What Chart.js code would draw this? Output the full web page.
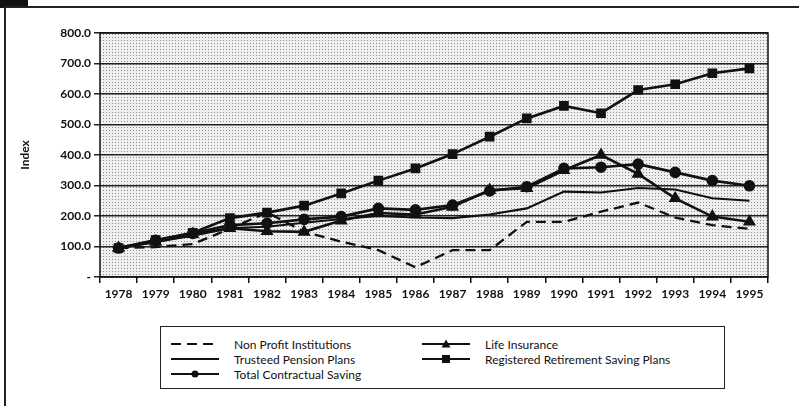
<!DOCTYPE html>
<html>
<head>
<meta charset="utf-8">
<script src="https://cdn.jsdelivr.net/npm/chart.js@4"></script>
<style>
    body { margin: 0; background: #fff; width: 799px; height: 406px; overflow: hidden; position: relative; font-family: Lato, "DejaVu Sans", sans-serif; }
    .frame-top { position: absolute; left: 5px; top: 6px; width: 794px; height: 2px; background: #222; }
    .frame-left { position: absolute; left: 4px; top: 6px; width: 2px; height: 400px; background: #222; }
    .corner { position: absolute; left: 0; top: 0; width: 28px; height: 8px; background: #111; }
    .chart-box { position: absolute; left: 0; top: 0; width: 799px; height: 310px; }
    .legend { position: absolute; left: 160px; top: 326px; width: 565px; height: 63px; border: 1.5px solid #222; box-sizing: border-box; font-size: 12px; color: #111; }
    .legend .item { position: absolute; display: flex; align-items: center; height: 14px; }
    .legend svg { margin-right: 13px; }
</style>
</head>
<body>
<div class="corner"></div>
<div class="frame-top"></div>
<div class="frame-left"></div>
<div class="chart-box"><canvas id="chart" width="799" height="310"></canvas></div>
<div class="legend">
    <div class="item" style="left:8px; top:10px"><svg width="52" height="10"><line x1="2" y1="5" x2="46" y2="5" stroke="#111" stroke-width="2" stroke-dasharray="10,6"/></svg>Non Profit Institutions</div>
    <div class="item" style="left:8px; top:25px"><svg width="52" height="10"><line x1="2" y1="5" x2="50" y2="5" stroke="#111" stroke-width="2"/></svg>Trusteed Pension Plans</div>
    <div class="item" style="left:8px; top:40px"><svg width="52" height="10"><line x1="2" y1="5" x2="50" y2="5" stroke="#111" stroke-width="2"/><circle cx="26" cy="5" r="3.5" fill="#111"/></svg>Total Contractual Saving</div>
    <div class="item" style="left:259px; top:10px"><svg width="52" height="10"><line x1="2" y1="5" x2="50" y2="5" stroke="#111" stroke-width="2"/><polygon points="26,0.5 30.5,8.5 21.5,8.5" fill="#111"/></svg>Life Insurance</div>
    <div class="item" style="left:259px; top:25px"><svg width="52" height="10"><line x1="2" y1="5" x2="50" y2="5" stroke="#111" stroke-width="2"/><rect x="22" y="1" width="8" height="8" fill="#111"/></svg>Registered Retirement Saving Plans</div>
</div>
<script>
const years = ['1978', '1979', '1980', '1981', '1982', '1983', '1984', '1985', '1986', '1987', '1988', '1989', '1990', '1991', '1992', '1993', '1994', '1995'];

const nonProfit = [95, 98, 108, 158, 212, 148, 116, 88, 32, 88, 88, 181, 181, 214, 244, 195, 170, 158];
const trusteed = [95, 115, 135, 160, 165, 178, 190, 200, 195, 193, 205, 225, 280, 277, 292, 287, 258, 250];
const totalSaving = [95, 120, 143, 170, 176, 189, 198, 225, 220, 236, 282, 296, 356, 360, 370, 343, 316, 299];
const lifeInsurance = [95, 115, 140, 160, 150, 148, 185, 210, 205, 230, 285, 291, 350, 400, 338, 258, 198, 181];
const rrsp = [95, 121, 145, 193, 211, 234, 274, 316, 356, 403, 460, 520, 561, 537, 613, 632, 668, 684];

const yTicks = [0, 100, 200, 300, 400, 500, 600, 700, 800];

// dotted grey fill behind the plot
const patCanvas = document.createElement('canvas');
patCanvas.width = 3;
patCanvas.height = 3;
const pctx = patCanvas.getContext('2d');
pctx.fillStyle = '#efefef';
pctx.fillRect(0, 0, 3, 3);
pctx.fillStyle = '#8c8c8c';
pctx.fillRect(1, 1, 1, 1);

const plotBg = {
    id: 'plotBg',
    beforeDraw(chart) {
        const { ctx, chartArea: a } = chart;
        ctx.save();
        ctx.fillStyle = ctx.createPattern(patCanvas, 'repeat');
        ctx.fillRect(a.left, a.top, a.right - a.left, a.bottom - a.top);
        ctx.restore();
    },
    afterDatasetsDraw(chart) {
        const { ctx, chartArea: a } = chart;
        ctx.save();
        ctx.strokeStyle = '#111';
        ctx.lineWidth = 1.5;
        ctx.strokeRect(a.left, a.top, a.right - a.left, a.bottom - a.top);
        ctx.restore();
    }
};

const line = (label, data, extra) => Object.assign({
    label: label,
    data: data,
    borderColor: '#111',
    backgroundColor: '#111',
    borderWidth: 2.6,
    pointRadius: 0,
    tension: 0,
    fill: false
}, extra);

const chartEl = document.getElementById('chart');

new Chart(chartEl, {
    type: 'line',
    data: {
        labels: years,
        datasets: [
            line('Non Profit Institutions', nonProfit, { borderDash: [10, 6], borderWidth: 2.3 }),
            line('Trusteed Pension Plans', trusteed, { borderWidth: 2.1 }),
            line('Total Contractual Saving', totalSaving, { pointStyle: 'circle', pointRadius: 4.5 }),
            line('Life Insurance', lifeInsurance, { pointStyle: 'triangle', pointRadius: 5 }),
            line('Registered Retirement Saving Plans', rrsp, { pointStyle: 'rect', pointRadius: 5 })
        ]
    },
    options: {
        responsive: false,
        animation: false,
        devicePixelRatio: 1,
        layout: { padding: { top: 33, right: 31, left: 0, bottom: 0 } },
        plugins: { legend: { display: false }, tooltip: { enabled: false } },
        scales: {
            x: {
                offset: true,
                grid: { offset: true, drawOnChartArea: false, color: '#111', lineWidth: 1.5, tickLength: 6 },
                border: { display: false },
                ticks: { color: '#111', font: { family: 'Lato', size: 12, weight: 'bold' }, maxRotation: 0, autoSkip: false, padding: 4 },
                afterFit(scale) { scale.height = 33; }
            },
            y: {
                min: 0,
                max: 800,
                afterBuildTicks(scale) { scale.ticks = yTicks.map(v => ({ value: v })); },
                grid: { color: '#222', lineWidth: 1.5, tickLength: 6 },
                border: { display: false },
                ticks: {
                    color: '#111',
                    font: { family: 'Lato', size: 12, weight: 'bold' },
                    padding: 3,
                    callback: v => v === 0 ? '-' : v.toFixed(1)
                },
                title: { display: true, text: 'Index', color: '#111', font: { family: 'Lato', size: 12, weight: 'bold' }, padding: { top: 18, bottom: 0 } },
                afterFit(scale) { scale.width = 100; }
            }
        }
    },
    plugins: [plotBg]
});
</script>
</body>
</html>
